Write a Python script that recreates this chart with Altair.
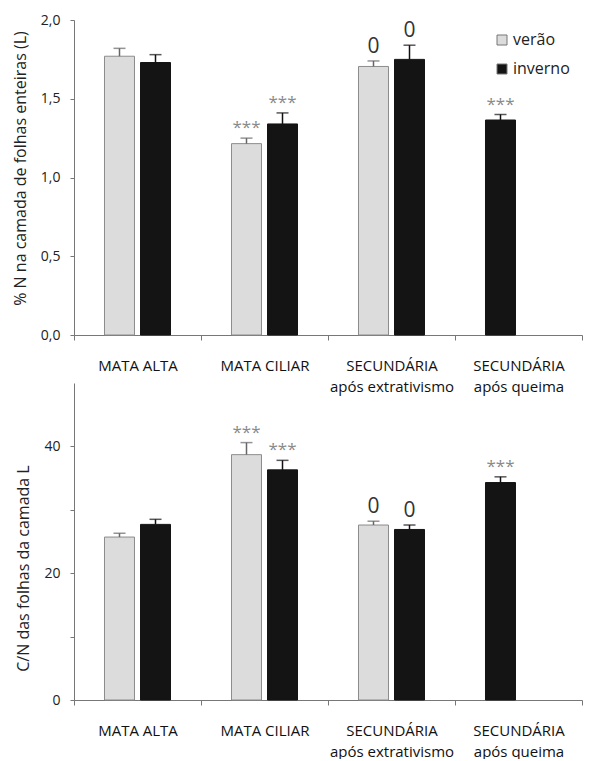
import altair as alt
import pandas as pd

FONT = "Open Sans"

categories = ["MATA ALTA", "MATA CILIAR", "SECUNDÁRIA|após extrativismo", "SECUNDÁRIA|após queima"]
seasons = ["verão", "inverno"]

row_cat = ["MATA ALTA", "MATA ALTA", "MATA CILIAR", "MATA CILIAR",
           "SECUNDÁRIA|após extrativismo", "SECUNDÁRIA|após extrativismo",
           "SECUNDÁRIA|após queima"]
row_season = ["verão", "inverno", "verão", "inverno", "verão", "inverno", "inverno"]
row_slot = ["a", "b", "a", "b", "a", "b", "a"]
row_mark = ["", "", "***", "***", "0", "0", "***"]

# % N in leaf layer
n_value = [1.77, 1.73, 1.215, 1.34, 1.705, 1.75, 1.365]
n_err = [0.05, 0.05, 0.035, 0.07, 0.035, 0.09, 0.035]

# C/N of leaf layer
cn_value = [25.7, 27.7, 38.7, 36.3, 27.6, 26.9, 34.3]
cn_err = [0.6, 0.8, 1.9, 1.5, 0.6, 0.7, 0.9]


def make_df(values, errs):
    df = pd.DataFrame({
        "cat": row_cat, "season": row_season, "slot": row_slot,
        "value": values, "err": errs, "mark": row_mark,
    })
    df["top"] = df["value"] + df["err"]
    return df


def panel(df, domain, tick_values, label_expr, title, title_y, show_legend, height):
    x = alt.X("cat:N", sort=categories,
              scale=alt.Scale(paddingInner=0, paddingOuter=0),
              axis=alt.Axis(title=None, ticks=True, tickBand="extent", tickExtra=True,
                            labelExpr="split(datum.label, '|')",
                            labelAngle=0, labelFontSize=15, labelLineHeight=21,
                            labelPadding=18, labelBaseline="top", tickSize=5,
                            labelColor="#111", labelFont=FONT))
    xo = alt.XOffset("slot:N", sort=["a", "b"],
                     scale=alt.Scale(paddingInner=0.1667, paddingOuter=0.847))
    yscale = alt.Scale(domain=domain, nice=False, zero=True)
    yaxis = alt.Axis(title=title, values=tick_values, labelExpr=label_expr,
                     grid=False, tickSize=4, labelPadding=10, labelFontSize=14,
                     labelColor="#222", labelFont=FONT, titleFont=FONT,
                     titleFontSize=16, titleFontWeight="normal", titleColor="#222",
                     titlePadding=12, titleY=title_y)
    legend = alt.Legend(title=None, orient="none", legendX=420, legendY=12,
                        symbolType="square", symbolSize=100, labelFontSize=16,
                        labelFont=FONT, labelColor="#222", rowPadding=13,
                        symbolStrokeColor="#777", symbolStrokeWidth=1,
                        labelOffset=3) if show_legend else None
    base = alt.Chart(df).encode(x=x, xOffset=xo)
    bars = base.mark_bar(strokeWidth=1).encode(
        y=alt.Y("value:Q", scale=yscale, axis=yaxis),
        color=alt.Color("season:N", scale=alt.Scale(domain=seasons, range=["#dcdcdc", "#141414"]),
                        legend=legend),
        stroke=alt.condition("datum.season == 'verão'", alt.value("#8c8c8c"), alt.value("#141414")),
    )
    ecolor = alt.condition("datum.season == 'verão'", alt.value("#666"), alt.value("#111"))
    rules = base.mark_rule(strokeWidth=1.5).encode(
        y=alt.Y("value:Q", scale=yscale), y2="top:Q", color=ecolor)
    caps = base.mark_tick(size=12, thickness=1.5).encode(
        y=alt.Y("top:Q", scale=yscale), color=ecolor)
    stars = base.transform_filter("datum.mark == '***'").mark_text(
        fontSize=17, font=FONT, color="#8a8a8a", baseline="alphabetic", dy=-5).encode(
        y=alt.Y("top:Q", scale=yscale), text="mark:N")
    zeros = base.transform_filter("datum.mark == '0'").mark_text(
        fontSize=21, font=FONT, color="#333", baseline="alphabetic", dy=-8).encode(
        y=alt.Y("top:Q", scale=yscale), text="mark:N")
    return alt.layer(bars, rules, caps, stars, zeros).properties(width=508, height=height)


top = panel(make_df(n_value, n_err), [0, 2], [0, 0.5, 1, 1.5, 2],
            "replace(format(datum.value, '.1f'), '.', ',')",
            "% N na camada de folhas enteiras (L)", 148, True, 315)
bottom = panel(make_df(cn_value, cn_err), [0, 50], [0, 10, 20, 30, 40],
               "datum.value % 20 == 0 ? format(datum.value, 'd') : ''",
               "C/N das folhas da camada L", 185, False, 317)

chart = alt.vconcat(top, bottom, spacing=48, bounds="flush").resolve_scale(
    color="independent").resolve_legend(color="independent").properties(
    padding={"left": 4, "top": 5, "right": 0, "bottom": 0}
).configure_view(stroke=None).configure_axis(
    domainColor="#777", tickColor="#777")

chart.save("out.html", embed_options={"renderer": "svg", "actions": False})
